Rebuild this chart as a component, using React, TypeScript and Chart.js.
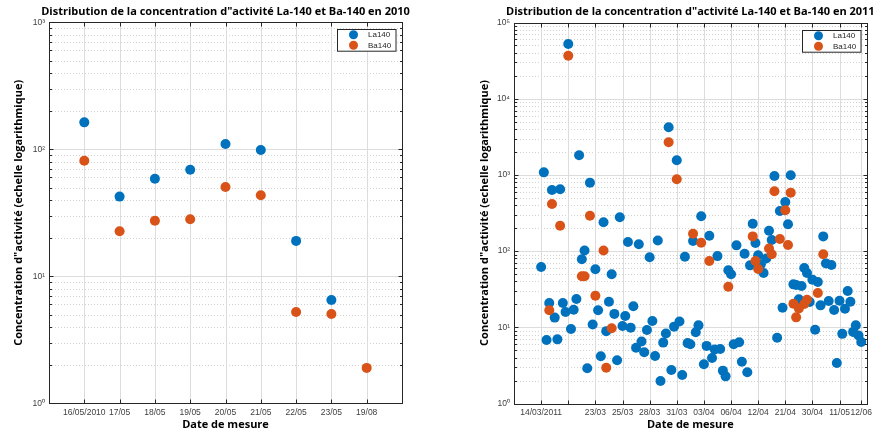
import React, { useEffect, useRef } from 'react';
import { Chart, registerables } from 'chart.js';

Chart.register(...registerables);

const LA_COLOR = '#0072BD';
const BA_COLOR = '#D95319';

// ---------- 2010 ----------
const dates2010 = ['16/05/2010', '17/05', '18/05', '19/05', '20/05', '21/05', '22/05', '23/05', '19/08'];
const la2010: (number | null)[] = [163, 42.4, 58.7, 69.1, 110, 98.7, 19.0, 6.5, null];
const ba2010: (number | null)[] = [81.3, 22.6, 27.4, 28.1, 50.5, 43.4, 5.24, 5.05, 1.9];

// ---------- 2011 ----------
const firstIndex2011 = 10;
const la2011: number[] = [
  61.9, 1080, 6.8, 20.8, 634, 13.4, 6.95, 648, 20.8, 15.9,
  52200, 9.5, 17, 23.5, 1808, 78, 102, 2.9, 790, 10.9,
  57.7, 16.7, 4.16, 239, 8.9, 21.7, 49.6, 15, 3.69, 278,
  10.4, 14.1, 132, 9.9, 18.9, 5.4, 123, 6.5, 4.7, 9.2,
  83, 12.1, 4.2, 138, 1.97, 6.3, 8.3, 4220, 2.75, 10.2,
  1556, 11.9, 2.37, 84.5, 6.2, 6.0, 136, 8.6, 10.6, 286,
  3.27, 5.7, 159, 3.96, 5.1, 86, 5.2, 2.7, 2.27, 56,
  49.6, 6.0, 119, 6.35, 3.54, 92.5, 2.57, 65, 229, 128,
  88, 67, 51.6, 80, 185, 140, 968, 7.3, 336, 18.1,
  441, 225, 988, 36.6, 35.9, 23.3, 34.8, 60, 51.6, 21.5,
  42.2, 9.3, 39.3, 19.4, 156, 69, 22.1, 65.7, 16.9, 3.4,
  22.3, 8.2, 17.5, 30, 21.7, 8.7, 10.6, 7.8, 6.4,
];
const ba2011Index: number[] = [
  13, 14, 17, 20, 25, 26, 28, 30, 33, 34, 36, 57, 60, 66, 69, 72, 79,
  88, 89, 90, 94, 95, 96, 98, 100, 101, 102, 103, 104, 105, 107, 108, 112, 114,
];
const ba2011Value: number[] = [
  16.7, 415, 215, 36600, 46.7, 46.7, 291, 26, 102, 2.95, 9.7, 2680, 875, 169, 129, 74, 34.1,
  156, 74, 58.2, 108, 91, 609, 144, 343, 120, 585, 20.4, 13.5, 17.7, 20.2, 23, 28.2, 91,
];
const tickPos2011 = [10, 20, 30, 40, 50, 60, 70, 80, 90, 100, 110, 120, 128];
const tickLabels2011 = ['14/03/2011', '', '23/03', '25/03', '28/03', '31/03', '03/04', '06/04', '12/04', '21/04', '30/04', '11/05', '12/06'];

const legendLabels = ['La140', 'Ba140'];
const yTitle = 'Concentration d"activité (echelle logarithmique)';
const xTitle = 'Date de mesure';

const SUP: Record<string, string> = { '0': '⁰', '1': '¹', '2': '²', '3': '³', '4': '⁴', '5': '⁵', '6': '⁶' };

type Pt = { x: number; y: number };
interface Spec {
  title: string;
  xMin: number;
  xMax: number;
  xTicks: number[];
  xLabels: string[];
  yMin: number;
  yMax: number;
  la: Pt[];
  ba: Pt[];
  padding: { left: number; right: number; top: number; bottom: number };
  yWidth: number;
  yTitlePad: number;
  xHeight: number;
}

const TICK_FONT = { family: '"Liberation Sans", Arial, sans-serif', size: 8.5 };
const LABEL_FONT = { family: '"Open Sans", sans-serif', size: 11, weight: 'bold' as const };

function buildChart(canvas: HTMLCanvasElement, spec: Spec) {
  const decades: number[] = [];
  const e0 = Math.round(Math.log10(spec.yMin));
  const e1 = Math.round(Math.log10(spec.yMax));
  for (let e = e0; e <= e1; e++) decades.push(Math.pow(10, e));

  const axesPlugin = {
    id: 'matlabAxes',
    beforeDatasetsDraw(chart: any) {
      const { ctx, chartArea: a } = chart;
      const xs = chart.scales.x;
      const ys = chart.scales.y;
      ctx.save();
      ctx.lineWidth = 1;
      // minor dotted
      ctx.strokeStyle = '#d2d2d2';
      ctx.setLineDash([1, 2]);
      for (let i = 0; i < decades.length - 1; i++) {
        for (let m = 2; m <= 9; m++) {
          const py = Math.round(ys.getPixelForValue(decades[i] * m)) + 0.5;
          ctx.beginPath();
          ctx.moveTo(a.left, py);
          ctx.lineTo(a.right, py);
          ctx.stroke();
        }
      }
      ctx.setLineDash([]);
      ctx.strokeStyle = '#dcdcdc';
      decades.forEach((v) => {
        const py = Math.round(ys.getPixelForValue(v)) + 0.5;
        ctx.beginPath();
        ctx.moveTo(a.left, py);
        ctx.lineTo(a.right, py);
        ctx.stroke();
      });
      spec.xTicks.forEach((v) => {
        const px = Math.round(xs.getPixelForValue(v)) + 0.5;
        ctx.beginPath();
        ctx.moveTo(px, a.top);
        ctx.lineTo(px, a.bottom);
        ctx.stroke();
      });
      ctx.restore();
    },
    afterDatasetsDraw(chart: any) {
      const { ctx, chartArea: a } = chart;
      const xs = chart.scales.x;
      const ys = chart.scales.y;
      ctx.save();
      ctx.strokeStyle = '#262626';
      ctx.lineWidth = 1;
      const L = Math.round(a.left) + 0.5;
      const R = Math.round(a.right) + 0.5;
      const T = Math.round(a.top) + 0.5;
      const B = Math.round(a.bottom) + 0.5;
      ctx.beginPath();
      // x ticks top & bottom
      spec.xTicks.forEach((v) => {
        const px = Math.round(xs.getPixelForValue(v)) + 0.5;
        ctx.moveTo(px, T);
        ctx.lineTo(px, T + 4);
        ctx.moveTo(px, B);
        ctx.lineTo(px, B - 4);
      });
      // y ticks left & right
      for (let i = 0; i < decades.length; i++) {
        const py = Math.round(ys.getPixelForValue(decades[i])) + 0.5;
        ctx.moveTo(L, py);
        ctx.lineTo(L + 4, py);
        ctx.moveTo(R, py);
        ctx.lineTo(R - 4, py);
        if (i < decades.length - 1) {
          for (let m = 2; m <= 9; m++) {
            const pm = Math.round(ys.getPixelForValue(decades[i] * m)) + 0.5;
            ctx.moveTo(L, pm);
            ctx.lineTo(L + 2.5, pm);
            ctx.moveTo(R, pm);
            ctx.lineTo(R - 2.5, pm);
          }
        }
      }
      ctx.stroke();
      ctx.strokeRect(L, T, R - L, B - T);
      ctx.restore();
    },
    afterDraw(chart: any) {
      const { ctx, chartArea: a } = chart;
      ctx.save();
      // title
      ctx.fillStyle = '#000';
      ctx.font = 'bold 11px "Open Sans", sans-serif';
      ctx.textAlign = 'center';
      ctx.textBaseline = 'middle';
      ctx.fillText(spec.title, (a.left + a.right) / 2, 11.5);
      // legend
      const bw = 58.5;
      const bh = 21.7;
      const bx = Math.round(a.right - 6.5 - bw) + 0.5;
      const by = Math.round(a.top + 7) + 0.5;
      ctx.fillStyle = '#fff';
      ctx.fillRect(bx, by, bw, bh);
      ctx.strokeStyle = '#262626';
      ctx.lineWidth = 1;
      ctx.strokeRect(bx, by, bw, bh);
      const colors = [LA_COLOR, BA_COLOR];
      const rows = [by + 5.2, by + 15.8];
      ctx.font = '8px "Liberation Sans", Arial, sans-serif';
      ctx.textAlign = 'left';
      ctx.textBaseline = 'middle';
      legendLabels.forEach((lab, i) => {
        ctx.fillStyle = colors[i];
        ctx.beginPath();
        ctx.arc(bx + 16, rows[i], 4.5, 0, Math.PI * 2);
        ctx.fill();
        ctx.fillStyle = '#262626';
        ctx.fillText(lab, bx + 30.5, rows[i]);
      });
      ctx.restore();
    },
  };

  return new Chart(canvas, {
    type: 'scatter',
    data: {
      datasets: [
        {
          label: legendLabels[0],
          data: spec.la,
          backgroundColor: LA_COLOR,
          borderColor: LA_COLOR,
          pointRadius: 5,
          pointHoverRadius: 5,
          pointBorderWidth: 0,
          order: 2,
        },
        {
          label: legendLabels[1],
          data: spec.ba,
          backgroundColor: BA_COLOR,
          borderColor: BA_COLOR,
          pointRadius: 5,
          pointHoverRadius: 5,
          pointBorderWidth: 0,
          order: 1,
        },
      ],
    },
    options: {
      responsive: false,
      animation: false,
      devicePixelRatio: 1,
      events: [],
      layout: { padding: spec.padding },
      plugins: {
        legend: { display: false },
        title: { display: false },
        tooltip: { enabled: false },
      },
      scales: {
        x: {
          type: 'linear',
          min: spec.xMin,
          max: spec.xMax,
          afterBuildTicks: (s: any) => {
            s.ticks = spec.xTicks.map((v) => ({ value: v }));
          },
          afterFit: (s: any) => {
            s.height = spec.xHeight;
          },
          ticks: {
            autoSkip: false,
            maxRotation: 0,
            minRotation: 0,
            padding: 4,
            color: '#404040',
            font: TICK_FONT,
            callback: (v: any) => {
              const i = spec.xTicks.indexOf(Number(v));
              return i >= 0 ? spec.xLabels[i] : '';
            },
          },
          grid: { display: false, drawTicks: false },
          border: { display: false },
          title: {
            display: true,
            text: xTitle,
            color: '#000',
            font: LABEL_FONT,
            padding: { top: 0, bottom: 3 },
          },
        },
        y: {
          type: 'logarithmic',
          min: spec.yMin,
          max: spec.yMax,
          afterBuildTicks: (s: any) => {
            s.ticks = decades.map((v) => ({ value: v, major: true }));
          },
          afterFit: (s: any) => {
            s.width = spec.yWidth;
          },
          ticks: {
            padding: 4,
            color: '#404040',
            font: TICK_FONT,
            callback: (v: any) => {
              const e = Math.round(Math.log10(Number(v)));
              return '10' + String(e).split('').map((c) => SUP[c] || c).join('');
            },
          },
          grid: { display: false, drawTicks: false },
          border: { display: false },
          title: {
            display: true,
            text: yTitle,
            color: '#000',
            font: LABEL_FONT,
            padding: { top: spec.yTitlePad, bottom: 0 },
          },
        },
      },
    },
    plugins: [axesPlugin],
  } as any);
}

const toPts = (arr: (number | null)[], start: number): Pt[] =>
  arr
    .map((v, i) => (v == null ? null : { x: start + i, y: v }))
    .filter((p): p is Pt => p !== null);

const leftSpec: Spec = {
  title: 'Distribution de la concentration d"activité La-140 et Ba-140 en 2010',
  xMin: 0,
  xMax: 10,
  xTicks: dates2010.map((_, i) => i + 1),
  xLabels: dates2010,
  yMin: 1,
  yMax: 1000,
  la: toPts(la2010, 1),
  ba: toPts(ba2010, 1),
  padding: { left: 0, right: 36, top: 22.3, bottom: 0 },
  yWidth: 49,
  yTitlePad: 11.9,
  xHeight: 30.7,
};

const rightSpec: Spec = {
  title: 'Distribution de la concentration d"activité La-140 et Ba-140 en 2011',
  xMin: 0,
  xMax: 130,
  xTicks: tickPos2011,
  xLabels: tickLabels2011,
  yMin: 1,
  yMax: 100000,
  la: toPts(la2011, firstIndex2011),
  ba: ba2011Index.map((x, i) => ({ x, y: ba2011Value[i] })),
  padding: { left: 30, right: 7.7, top: 22.5, bottom: 0 },
  yWidth: 46,
  yTitlePad: 9.9,
  xHeight: 30.5,
};

export default function App() {
  const leftRef = useRef<HTMLCanvasElement>(null);
  const rightRef = useRef<HTMLCanvasElement>(null);

  useEffect(() => {
    const c1 = buildChart(leftRef.current as HTMLCanvasElement, leftSpec);
    const c2 = buildChart(rightRef.current as HTMLCanvasElement, rightSpec);
    return () => {
      c1.destroy();
      c2.destroy();
    };
  }, []);

  return (
    <div style={{ position: 'absolute', left: 0, top: 0, width: 876, height: 434, background: '#fff' }}>
      <canvas
        ref={leftRef}
        width={438}
        height={434}
        style={{ position: 'absolute', left: 0, top: 0, width: 438, height: 434 }}
      />
      <canvas
        ref={rightRef}
        width={438}
        height={434}
        style={{ position: 'absolute', left: 438, top: 0, width: 438, height: 434 }}
      />
    </div>
  );
}
